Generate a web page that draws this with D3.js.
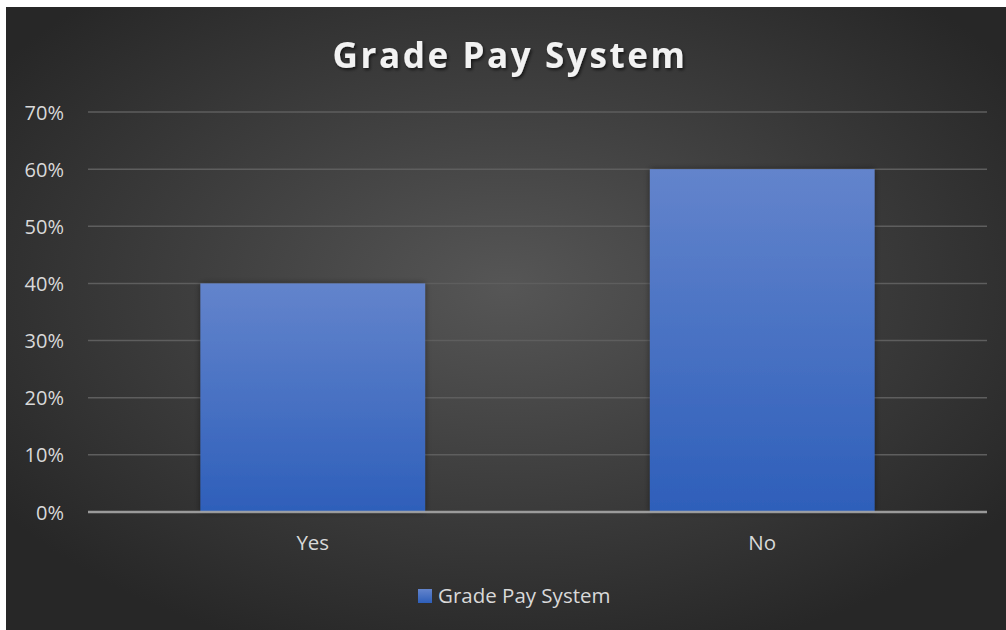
<!DOCTYPE html>
<html>
<head>
<meta charset="utf-8">
<script src="https://cdn.jsdelivr.net/npm/d3@7"></script>
<style>
  html, body { margin: 0; padding: 0; background: #ffffff; }
  svg { display: block; }
</style>
</head>
<body>
<svg id="chart" width="1006" height="630"></svg>
<script>
// Survey result: share of respondents per answer
const categories = ["Yes", "No"];
const values = [0.40, 0.60];
const yTicks = [0, 0.1, 0.2, 0.3, 0.4, 0.5, 0.6, 0.7];
const seriesName = "Grade Pay System";
const chartTitle = "Grade Pay System";

const W = 1006, H = 630;
const FONT = "'Open Sans', 'Noto Sans', sans-serif";
const svg = d3.select("#chart");
const defs = svg.append("defs");

// Dark panel with a soft lighter centre
const bg = defs.append("radialGradient").attr("id", "bgGrad")
  .attr("cx", "50%").attr("cy", "45%").attr("r", "62%");
bg.append("stop").attr("offset", "0%").attr("stop-color", "#565656");
bg.append("stop").attr("offset", "100%").attr("stop-color", "#272727");

// Bar fill: lighter blue on top fading to deeper blue at the base
const barGrad = defs.append("linearGradient").attr("id", "barGrad")
  .attr("x1", 0).attr("y1", 0).attr("x2", 0).attr("y2", 1);
barGrad.append("stop").attr("offset", "0%").attr("stop-color", "#6384cc");
barGrad.append("stop").attr("offset", "100%").attr("stop-color", "#2e5fba");

const shadow = defs.append("filter").attr("id", "barShadow")
  .attr("x", "-10%").attr("y", "-10%").attr("width", "120%").attr("height", "120%");
shadow.append("feGaussianBlur").attr("in", "SourceAlpha").attr("stdDeviation", 3).attr("result", "b");
shadow.append("feComponentTransfer").attr("in", "b").attr("result", "s")
  .append("feFuncA").attr("type", "linear").attr("slope", 0.45);
const sm = shadow.append("feMerge");
sm.append("feMergeNode").attr("in", "s");
sm.append("feMergeNode").attr("in", "SourceGraphic");

const titleShadow = defs.append("filter").attr("id", "titleShadow")
  .attr("x", "-5%").attr("y", "-20%").attr("width", "110%").attr("height", "150%");
titleShadow.append("feDropShadow").attr("dx", 1.5).attr("dy", 2).attr("stdDeviation", 1.5)
  .attr("flood-color", "#000").attr("flood-opacity", 0.6);

svg.append("rect").attr("x", 6).attr("y", 7).attr("width", W - 6).attr("height", H - 7)
  .attr("fill", "url(#bgGrad)");

const plot = { left: 88, right: 987, top: 112, bottom: 512 };

const x = d3.scaleBand().domain(categories)
  .range([plot.left, plot.right]).paddingInner(0.5).paddingOuter(0.25);
const y = d3.scaleLinear().domain([0, 0.7]).range([plot.bottom, plot.top]);

// Horizontal gridlines
svg.append("g").selectAll("line").data(yTicks.filter(d => d > 0)).join("line")
  .attr("x1", plot.left).attr("x2", plot.right)
  .attr("y1", d => y(d)).attr("y2", d => y(d))
  .attr("stroke", "#5e5e5e").attr("stroke-width", 1.5);

// Y axis labels
const yAxis = d3.axisLeft(y).tickValues(yTicks).tickFormat(d3.format(".0%"))
  .tickSize(0).tickPadding(0);
const yg = svg.append("g").attr("transform", `translate(64,0)`).call(yAxis);
yg.select(".domain").remove();
yg.selectAll("text").attr("fill", "#d9d9d9")
  .style("font-family", FONT).style("font-size", "20px")
  .attr("dy", "0.35em");

// Bars
svg.append("g").selectAll("rect").data(categories).join("rect")
  .attr("x", d => x(d))
  .attr("y", (d, i) => y(values[i]))
  .attr("width", x.bandwidth())
  .attr("height", (d, i) => y(0) - y(values[i]))
  .attr("fill", "url(#barGrad)")
  .attr("filter", "url(#barShadow)");

// Baseline
svg.append("line").attr("x1", plot.left).attr("x2", plot.right)
  .attr("y1", y(0)).attr("y2", y(0))
  .attr("stroke", "#a6a6a6").attr("stroke-width", 2.5).attr("opacity", 0.9);

// Category labels
const xAxis = d3.axisBottom(x).tickSize(0).tickPadding(0);
const xg = svg.append("g").attr("transform", `translate(0,${plot.bottom + 23})`).call(xAxis);
xg.select(".domain").remove();
xg.selectAll("text").attr("fill", "#d9d9d9")
  .style("font-family", FONT).style("font-size", "20.5px")
  .attr("dy", "0.71em");

// Title
svg.append("text").attr("x", 510).attr("y", 68).attr("text-anchor", "middle")
  .attr("fill", "#f2f2f2").attr("filter", "url(#titleShadow)")
  .style("font-family", FONT)
  .style("font-size", "35px").style("font-weight", "700").style("letter-spacing", "2.6px")
  .text(chartTitle);

// Legend
const lg = svg.append("g").attr("transform", "translate(418,589)");
lg.append("rect").attr("x", 0).attr("y", 0).attr("width", 14).attr("height", 14)
  .attr("fill", "url(#barGrad)");
lg.append("text").attr("x", 20).attr("y", 7).attr("dy", "0.35em")
  .attr("fill", "#d9d9d9")
  .style("font-family", FONT).style("font-size", "20.5px")
  .text(seriesName);
</script>
</body>
</html>
